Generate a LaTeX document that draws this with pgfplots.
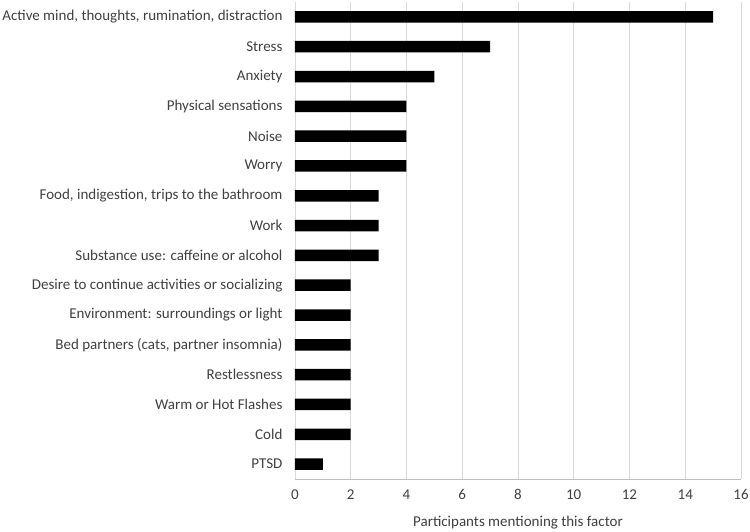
\documentclass[border=0pt]{standalone}
\usepackage{pgfplots}
\pgfplotsset{compat=1.18}
\usepackage{fontspec}
\setmainfont{Carlito}
\definecolor{gridc}{HTML}{D9D9D9}
\definecolor{axc}{HTML}{BFBFBF}
\definecolor{txt}{HTML}{404040}
\begin{document}
\begin{tikzpicture}
\useasboundingbox (-295pt,-52pt) rectangle (455pt,479pt);
\begin{axis}[
  at={(0pt,0pt)}, anchor=south west,
  scale only axis, width=446pt, height=477pt,
  xbar, bar width=11.5pt,
  xmin=0, xmax=16, xtick={0,2,...,16},
  ymin=-0.5, ymax=15.5,
  ytick={0,...,15},
  yticklabels={PTSD,Cold,Warm or Hot Flashes,Restlessness,{Bed partners (cats, partner insomnia)},Environment: surroundings or light,Desire to continue activities or socializing,Substance use: caffeine or alcohol,Work,{Food, indigestion, trips to the bathroom},Worry,Noise,Physical sensations,Anxiety,Stress,{Active mind, thoughts, rumination, distraction}},
  major tick length=0pt,
  xmajorgrids, grid style={gridc, line width=0.8pt},
  axis x line*=bottom, axis y line*=left,
  x axis line style={axc, line width=0.8pt, -},
  y axis line style={draw=none},
  /pgf/number format/assume math mode=true,
  tick label style={font=\fontsize{15}{17}\selectfont, text=txt},
  xticklabel style={yshift=-7pt},
  yticklabel style={xshift=-9pt},
  xlabel={Participants mentioning this factor},
  xlabel style={font=\fontsize{15}{17}\selectfont, text=txt, yshift=-9pt},
  clip=false,
]
\addplot[fill=black, draw=none] coordinates {
(1,0) (2,1) (2,2) (2,3) (2,4) (2,5) (2,6) (3,7) (3,8) (3,9) (4,10) (4,11) (4,12) (5,13) (7,14) (15,15)};
\end{axis}
\end{tikzpicture}
\end{document}
